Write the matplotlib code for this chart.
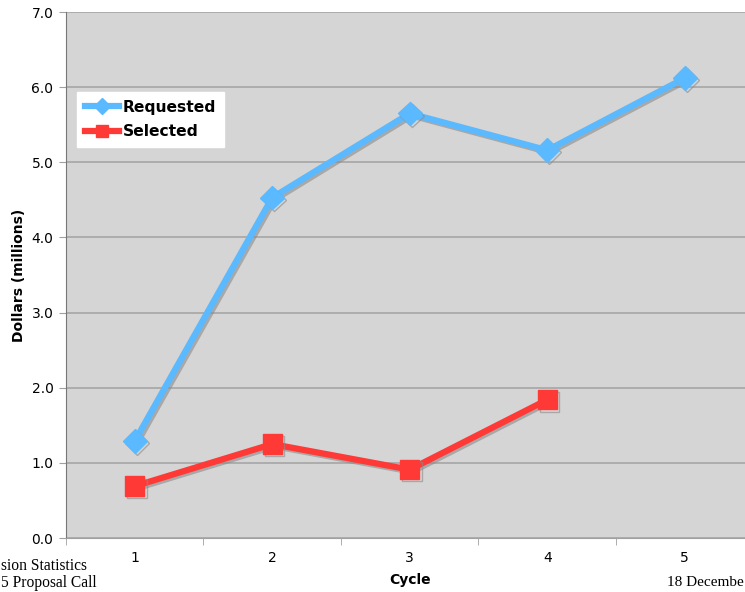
import numpy as np
import matplotlib.pyplot as plt
import matplotlib.patheffects as pe
from matplotlib.ticker import FixedLocator

cycles = [1, 2, 3, 4, 5]
requested = [1.29, 4.53, 5.65, 5.16, 6.12]
selected_cycles = [1, 2, 3, 4]
selected = [0.69, 1.25, 0.91, 1.84]
y_ticks = [0.0, 1.0, 2.0, 3.0, 4.0, 5.0, 6.0, 7.0]

plt.rcParams['font.family'] = ['DejaVu Sans']

fig = plt.figure(figsize=(7.45, 5.92), dpi=100)
ax = fig.add_axes([66 / 745, 54 / 592, 687.5 / 745, 526 / 592])
ax.set_facecolor("#d5d5d5")

shadow = [pe.SimpleLineShadow(offset=(1.5, -1.5), shadow_color="#8a8a8a", alpha=0.6), pe.Normal()]

ax.plot(cycles, requested, color="#5ab9ff", lw=4.5, marker="D", markersize=12,
        label="Requested", path_effects=shadow, zorder=3)
ax.plot(selected_cycles, selected, color="#ff3a36", lw=4.5, marker="s", markersize=14,
        label="Selected", path_effects=shadow, zorder=3)

ax.set_xlim(0.5, 5.5)
ax.set_ylim(0, 7)
ax.set_yticks(y_ticks)
ax.set_yticklabels([f"{v:.1f}" for v in y_ticks], fontsize=10)
ax.set_xticks(cycles)
ax.set_xticklabels([str(c) for c in cycles], fontsize=10)
ax.tick_params(axis="x", which="major", length=0, pad=9)
ax.xaxis.set_minor_locator(FixedLocator(np.arange(0.5, 6, 1.0)))
ax.tick_params(axis="x", which="minor", length=5, color="#a0a0a0")
ax.tick_params(axis="y", length=5, color="#a0a0a0", pad=4)

ax.grid(axis="y", color="#a6a6a6", lw=1.2)
ax.set_axisbelow(True)
for side in ["top", "right"]:
    ax.spines[side].set_visible(False)
ax.spines["left"].set_color("#777777")
ax.spines["bottom"].set_color("#a0a0a0")

ax.set_ylabel("Dollars (millions)", fontsize=10, fontweight="bold", labelpad=4)
ax.set_xlabel("Cycle", fontsize=10, fontweight="bold", labelpad=6)

leg = ax.legend(loc="upper left", bbox_to_anchor=(0.016, 0.848), frameon=True,
                fancybox=False, framealpha=1, edgecolor="white",
                prop={"weight": "bold", "size": 11.2}, handlelength=2.2,
                handletextpad=0.25, borderpad=0.5, labelspacing=0.6,
                borderaxespad=0)
for h, ms in zip(leg.legend_handles, [8, 9]):
    h.set_path_effects([])
    h.set_markersize(ms)

# leftover slide text, partly hidden behind the chart edges
fig.text(1 / 745, 1 - 566 / 592, "sion Statistics", ha="left", va="center",
         family="Liberation Serif", fontsize=11.2)
fig.text(1 / 745, 1 - 583 / 592, "5 Proposal Call", ha="left", va="center",
         family="Liberation Serif", fontsize=11.2)
fig.text(667 / 745, 1 - 583 / 592, "18 Decembe", ha="left", va="center",
         family="Liberation Serif", fontsize=11)

fig.savefig("out.png", dpi=100)
